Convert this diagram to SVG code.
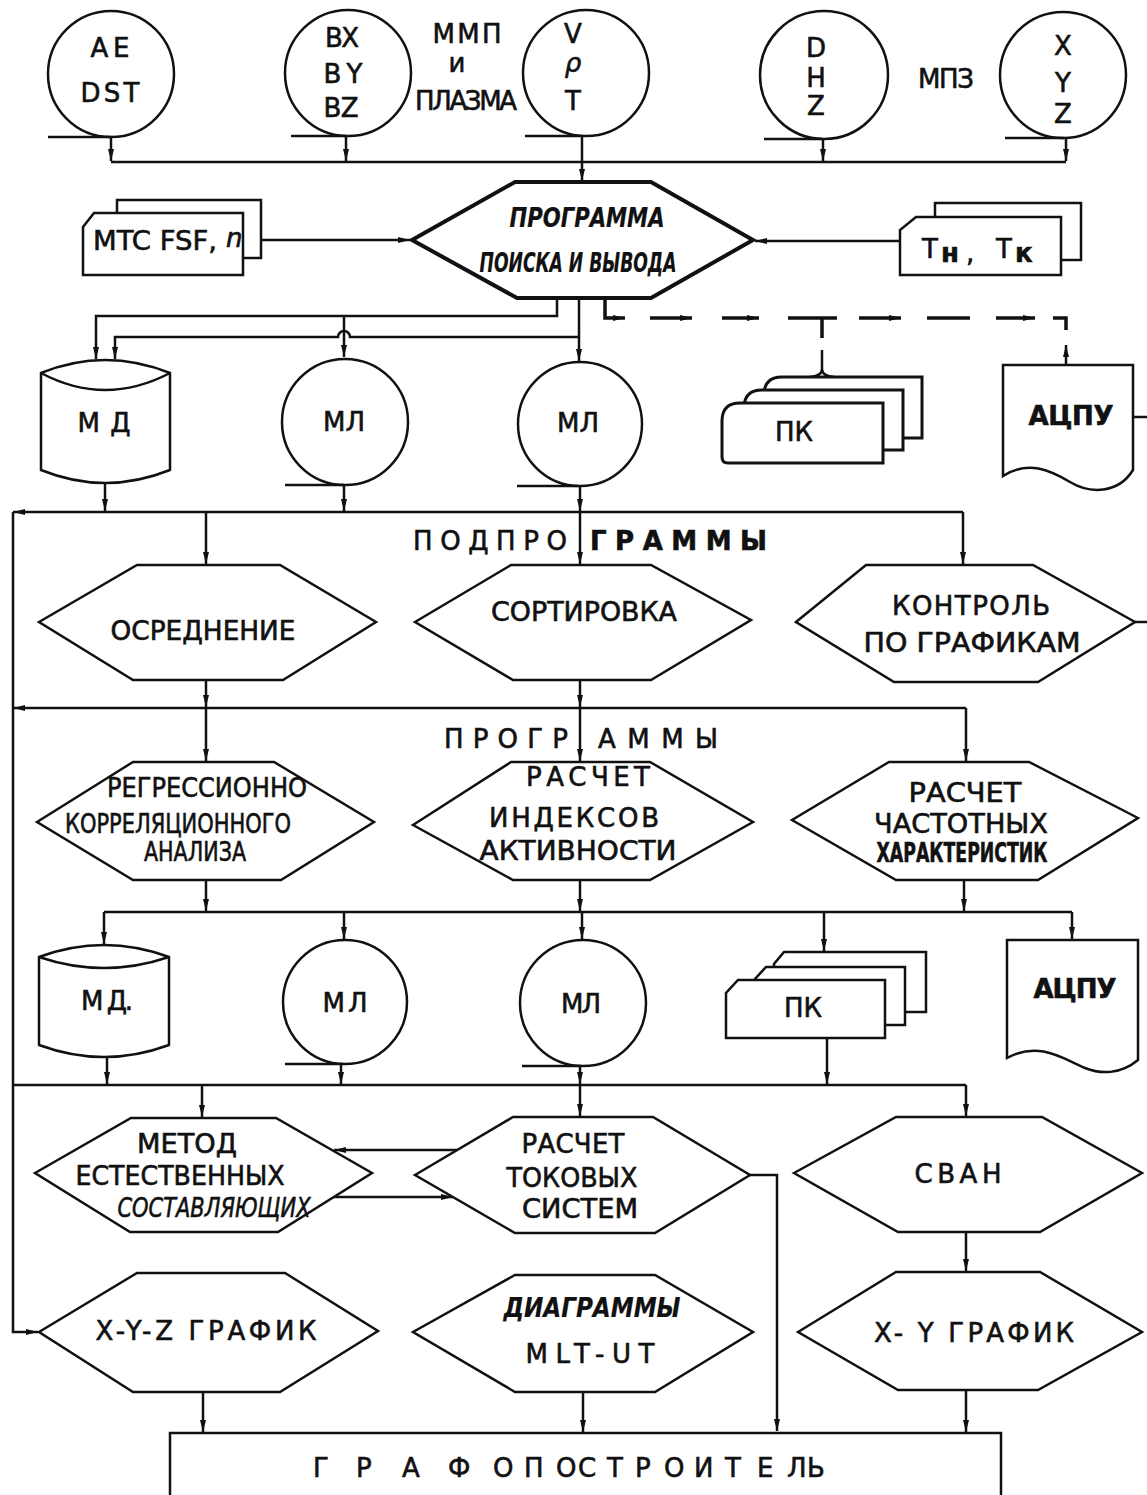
<svg xmlns="http://www.w3.org/2000/svg" width="1147" height="1495" viewBox="0 0 1147 1495">
<style>
.ln{fill:none;stroke:#111;stroke-width:2.5}
.sh{fill:#fff;stroke:#111;stroke-width:2.5}
.thk{fill:#fff;stroke:#111;stroke-width:4}
.dash{fill:none;stroke:#111;stroke-width:3.5}
.t{font-family:"DejaVu Sans","Liberation Sans",sans-serif;fill:#111;stroke:#111;stroke-width:0.6;text-anchor:middle;font-size:26px}
.s{text-anchor:start}
.it{font-style:italic;font-weight:bold;stroke-width:0.2}
</style>
<defs>
<marker id="a" viewBox="0 0 12 8" refX="12" refY="4" markerWidth="12" markerHeight="8" markerUnits="userSpaceOnUse" orient="auto"><path d="M0,1 L12,4 L0,7 z" fill="#111"/></marker>
</defs>
<rect width="1147" height="1495" fill="#fff"/>

<g id="connectors">
<path class="ln" d="M111,162 H1066"/>
<path class="ln" d="M111,137 V161" marker-end="url(#a)"/>
<path class="ln" d="M346,137 V161" marker-end="url(#a)"/>
<path class="ln" d="M823,139 V161" marker-end="url(#a)"/>
<path class="ln" d="M1066,138 V161" marker-end="url(#a)"/>
<path class="ln" d="M582,136 V181" marker-end="url(#a)"/>
<path class="ln" d="M261,240 H410" marker-end="url(#a)"/>
<path class="ln" d="M900,241 H755" marker-end="url(#a)"/>
<path class="ln" d="M557,298 V316 H96 V359" marker-end="url(#a)"/>
<path class="ln" d="M344,316 V357" marker-end="url(#a)"/>
<path class="ln" d="M579,298 V361" marker-end="url(#a)"/>
<path class="ln" d="M579,337 H350 a6,6 0 0 0 -12,0 H115 V359" marker-end="url(#a)"/>
<path class="dash" d="M605,298 V318 H625" marker-end="url(#a)"/>
<path class="dash" d="M650,318 H692" marker-end="url(#a)"/>
<path class="dash" d="M722,318 H759" marker-end="url(#a)"/>
<path class="dash" d="M788,318 H837 M822,318 V338"/>
<path class="dash" d="M859,318 H901" marker-end="url(#a)"/>
<path class="dash" d="M927,318 H970"/>
<path class="dash" d="M996,318 H1035" marker-end="url(#a)"/>
<path class="dash" d="M1053,318 H1066 V330"/>
<path class="ln" d="M1066,365 V345" marker-end="url(#a)"/>
<path class="ln" d="M822,350 V369 Q822,376 810,377 M822,369 Q822,376 834,377"/>
<path class="ln" d="M1133,417 H1147"/>
<path class="ln" d="M963,512 H13" marker-end="url(#a)"/>
<path class="ln" d="M13,512 V1332 H38" marker-end="url(#a)"/>
<path class="ln" d="M105,483 V511" marker-end="url(#a)"/>
<path class="ln" d="M344,485 V511" marker-end="url(#a)"/>
<path class="ln" d="M580,486 V511" marker-end="url(#a)"/>
<path class="ln" d="M206,512 V564" marker-end="url(#a)"/>
<path class="ln" d="M580,512 V564" marker-end="url(#a)"/>
<path class="ln" d="M963,512 V564" marker-end="url(#a)"/>
<path class="ln" d="M1135,622 H1147"/>
<path class="ln" d="M966,708 H13" marker-end="url(#a)"/>
<path class="ln" d="M206,681 V707" marker-end="url(#a)"/>
<path class="ln" d="M580,681 V707" marker-end="url(#a)"/>
<path class="ln" d="M206,708 V761" marker-end="url(#a)"/>
<path class="ln" d="M580,708 V761" marker-end="url(#a)"/>
<path class="ln" d="M966,708 V761" marker-end="url(#a)"/>
<path class="ln" d="M104,912 H1072"/>
<path class="ln" d="M206,880 V911" marker-end="url(#a)"/>
<path class="ln" d="M580,880 V911" marker-end="url(#a)"/>
<path class="ln" d="M964,880 V911" marker-end="url(#a)"/>
<path class="ln" d="M104,912 V944" marker-end="url(#a)"/>
<path class="ln" d="M344,912 V939" marker-end="url(#a)"/>
<path class="ln" d="M582,912 V939" marker-end="url(#a)"/>
<path class="ln" d="M824,912 V951" marker-end="url(#a)"/>
<path class="ln" d="M1072,912 V939" marker-end="url(#a)"/>
<path class="ln" d="M966,1085 H13"/>
<path class="ln" d="M107,1057 V1084" marker-end="url(#a)"/>
<path class="ln" d="M341,1065 V1084" marker-end="url(#a)"/>
<path class="ln" d="M580,1066 V1084" marker-end="url(#a)"/>
<path class="ln" d="M827,1038 V1084" marker-end="url(#a)"/>
<path class="ln" d="M202,1085 V1117" marker-end="url(#a)"/>
<path class="ln" d="M580,1085 V1116" marker-end="url(#a)"/>
<path class="ln" d="M966,1085 V1116" marker-end="url(#a)"/>
<path class="ln" d="M457,1150 H334" marker-end="url(#a)"/>
<path class="ln" d="M334,1197 H453" marker-end="url(#a)"/>
<path class="ln" d="M750,1175 H777 V1431" marker-end="url(#a)"/>
<path class="ln" d="M966,1232 V1271" marker-end="url(#a)"/>
<path class="ln" d="M203,1392 V1432" marker-end="url(#a)"/>
<path class="ln" d="M583,1392 V1432" marker-end="url(#a)"/>
<path class="ln" d="M966,1390 V1432" marker-end="url(#a)"/>
</g>

<g id="tape-ae">
<circle class="sh" cx="111" cy="74" r="63"/>
<path class="ln" d="M48,137 H111"/>
<text class="t" x="110" y="57" textLength="39">A E</text>
<text class="t" x="110" y="102" textLength="59">DST</text>
</g>
<g id="tape-b">
<circle class="sh" cx="348" cy="73" r="63"/>
<path class="ln" d="M291,136 H346"/>
<text class="t" x="342" y="47" textLength="34">B X</text>
<text class="t" x="343" y="83" textLength="39">B Y</text>
<text class="t" x="341" y="117" textLength="35">B Z</text>
</g>
<g id="label-mmp">
<text class="t" x="467" y="43" font-size="24" textLength="69">ММП</text>
<text class="t" x="457" y="72" font-size="18">и</text>
<text class="t" x="466" y="110" font-size="22" textLength="102">ПЛАЗМА</text>
</g>
<g id="tape-v">
<circle class="sh" cx="586" cy="73" r="63"/>
<path class="ln" d="M525,136 H582"/>
<text class="t" x="573" y="43">V</text>
<text class="t" x="573" y="72" font-style="italic">ρ</text>
<text class="t" x="573" y="110">T</text>
</g>
<g id="tape-dhz">
<circle class="sh" cx="824" cy="75" r="64"/>
<path class="ln" d="M764,139 H822"/>
<text class="t" x="816" y="57" font-size="22">D</text>
<text class="t" x="816" y="87" font-size="22">H</text>
<text class="t" x="816" y="115" font-size="22">Z</text>
</g>
<text class="t" x="946" y="88" font-size="24" textLength="56">МПЗ</text>
<g id="tape-xyz">
<circle class="sh" cx="1063" cy="75" r="63"/>
<path class="ln" d="M1005,138 H1064"/>
<text class="t" x="1063" y="55" font-size="22">X</text>
<text class="t" x="1063" y="92" font-size="22">Y</text>
<text class="t" x="1063" y="123" font-size="22">Z</text>
</g>

<g id="cards-mtc">
<rect class="sh" x="117" y="200" width="144" height="58"/>
<path class="sh" d="M94,213 H243 V275 H83 V227 Z"/>
<text class="t s" x="93" y="250" font-size="24" textLength="124" lengthAdjust="spacingAndGlyphs">MTC FSF,</text>
<text class="t s" x="226" y="247" font-size="16" font-style="italic">n</text>
</g>
<g id="cards-t">
<rect class="sh" x="935" y="203" width="146" height="57"/>
<path class="sh" d="M916,217 H1061 V275 H900 V230 Z"/>
<text class="t s" x="922" y="258">T</text>
<text class="t s" x="941" y="262" font-size="13" font-weight="bold">н</text>
<text class="t s" x="966" y="262" font-size="22">,</text>
<text class="t s" x="996" y="258">T</text>
<text class="t s" x="1015" y="262" font-size="13" font-weight="bold">к</text>
</g>

<g id="main-program">
<polygon class="thk" points="412,240 515,182 651,182 753,240 651,298 517,298"/>
<text class="t it" x="587" y="227" font-size="20" textLength="155" lengthAdjust="spacingAndGlyphs">ПРОГРАММА</text>
<text class="t it" x="578" y="272" font-size="20" textLength="197" lengthAdjust="spacingAndGlyphs">ПОИСКА И ВЫВОДА</text>
</g>

<g id="disk-1">
<path class="sh" d="M41,373 Q105,347 170,373 V470 Q105,496 41,470 Z"/>
<path class="ln" d="M41,373 Q105,407 170,373"/>
<text class="t" x="104" y="432" textLength="53">М Д</text>
</g>
<g id="tape-1">
<circle class="sh" cx="345" cy="422" r="63"/>
<path class="ln" d="M285,485 H344"/>
<text class="t" x="344" y="431" font-size="24">МЛ</text>
</g>
<g id="tape-2">
<circle class="sh" cx="580" cy="424" r="62"/>
<path class="ln" d="M517,486 H578"/>
<text class="t" x="578" y="432" font-size="24">МЛ</text>
</g>
<g id="cards-pk-1">
<path d="M764,395 Q764,377 782,377 H922 V438 H764 Z" fill="#fff" stroke="#111" stroke-width="3"/>
<path d="M744,408 Q744,390 762,390 H903 V450 H744 Z" fill="#fff" stroke="#111" stroke-width="3"/>
<path d="M722,421 Q722,403 740,403 H883 V463 H728 Q722,463 722,457 Z" fill="#fff" stroke="#111" stroke-width="3"/>
<text class="t" x="794" y="441" font-size="24">ПК</text>
</g>
<g id="printer-1">
<path class="sh" d="M1003,365 H1133 V470 C1118,494 1090,494 1070,482 C1050,470 1028,460 1003,476 Z"/>
<text class="t" x="1071" y="425" font-size="24" font-weight="bold" textLength="85">АЦПУ</text>
</g>

<g id="lbl-subprograms">
<text class="t s" x="413" y="550" textLength="154">ПОДПРО</text>
<text class="t s" x="590" y="550" font-weight="bold" textLength="177">ГРАММЫ</text>
</g>

<g id="averaging">
<polygon class="sh" points="39,622 137,565 280,565 376,622 283,680 133,680"/>
<text class="t" x="203" y="640" textLength="185" lengthAdjust="spacingAndGlyphs">ОСРЕДНЕНИЕ</text>
</g>
<g id="sorting">
<polygon class="sh" points="415,622 511,565 651,565 751,620 651,680 513,680"/>
<text class="t" x="584" y="621" textLength="186" lengthAdjust="spacingAndGlyphs">СОРТИРОВКА</text>
</g>
<g id="control">
<polygon class="sh" points="796,622 866,565 1033,565 1135,622 1038,682 894,682"/>
<text class="t" x="971" y="615" font-size="28" textLength="158">КОНТРОЛЬ</text>
<text class="t" x="972" y="652" textLength="217" lengthAdjust="spacingAndGlyphs">ПО ГРАФИКАМ</text>
</g>

<g id="lbl-programs">
<text class="t s" x="444" y="748" textLength="124">ПРОГР</text>
<text class="t s" x="598" y="748" textLength="120">АММЫ</text>
</g>

<g id="regression">
<polygon class="sh" points="37,822 133,762 274,762 374,822 281,880 133,880"/>
<text class="t" x="207" y="797" font-size="23" textLength="200" lengthAdjust="spacingAndGlyphs">РЕГРЕССИОННО</text>
<text class="t" x="178" y="833" font-size="23" textLength="226" lengthAdjust="spacingAndGlyphs">КОРРЕЛЯЦИОННОГО</text>
<text class="t" x="195" y="861" font-size="23" textLength="102" lengthAdjust="spacingAndGlyphs">АНАЛИЗА</text>
</g>
<g id="indices">
<polygon class="sh" points="413,825 511,762 650,762 753,822 650,880 513,880"/>
<text class="t" x="588" y="786" font-size="27" textLength="124">РАСЧЕТ</text>
<text class="t" x="574" y="827" font-size="28" textLength="170">ИНДЕКСОВ</text>
<text class="t" x="578" y="860" font-size="28" textLength="197" lengthAdjust="spacingAndGlyphs">АКТИВНОСТИ</text>
</g>
<g id="frequency">
<polygon class="sh" points="792,820 889,762 1029,762 1138,818 1038,880 896,880"/>
<text class="t" x="965" y="802" font-size="29" textLength="113" lengthAdjust="spacingAndGlyphs">РАСЧЕТ</text>
<text class="t" x="961" y="833" font-size="28" textLength="174" lengthAdjust="spacingAndGlyphs">ЧАСТОТНЫХ</text>
<text class="t" x="962" y="862" font-size="19" font-weight="bold" textLength="171" lengthAdjust="spacingAndGlyphs">ХАРАКТЕРИСТИК</text>
</g>

<g id="disk-2">
<path class="sh" d="M39,957 Q104,933 169,957 V1045 Q104,1069 39,1045 Z"/>
<path class="ln" d="M39,957 Q104,979 169,957"/>
<text class="t" x="107" y="1010" textLength="52">М Д.</text>
</g>
<g id="tape-3">
<circle class="sh" cx="345" cy="1002" r="62"/>
<path class="ln" d="M285,1064 H343"/>
<text class="t" x="345" y="1012" textLength="45">М Л</text>
</g>
<g id="tape-4">
<circle class="sh" cx="583" cy="1003" r="63"/>
<path class="ln" d="M522,1066 H581"/>
<text class="t" x="581" y="1013" textLength="40">МЛ</text>
</g>
<g id="cards-pk-2">
<path class="sh" d="M784,952 H926 V1012 H774 V964 Z"/>
<path class="sh" d="M766,967 H905 V1025 H755 V979 Z"/>
<path class="sh" d="M738,980 H885 V1038 H726 V993 Z"/>
<text class="t" x="803" y="1017" font-size="24">ПК</text>
</g>
<g id="printer-2">
<path class="sh" d="M1007,940 H1138 V1060 C1120,1075 1100,1074 1085,1068 C1065,1060 1040,1040 1007,1058 Z"/>
<text class="t" x="1075" y="998" font-size="24" font-weight="bold" textLength="83">АЦПУ</text>
</g>

<g id="natural-components">
<polygon class="sh" points="35,1173 131,1118 276,1118 372,1173 278,1232 130,1232"/>
<text class="t" x="187" y="1153" font-size="28" textLength="100" lengthAdjust="spacingAndGlyphs">МЕТОД</text>
<text class="t" x="180" y="1185" font-size="27" textLength="209" lengthAdjust="spacingAndGlyphs">ЕСТЕСТВЕННЫХ</text>
<text class="t" x="214" y="1217" font-size="22" font-style="italic" textLength="193" lengthAdjust="spacingAndGlyphs">СОСТАВЛЯЮЩИХ</text>
</g>
<g id="current-systems">
<polygon class="sh" points="415,1175 513,1117 653,1117 750,1175 655,1233 515,1233"/>
<text class="t" x="573" y="1153" textLength="103">РАСЧЕТ</text>
<text class="t" x="572" y="1187" font-size="27" textLength="131" lengthAdjust="spacingAndGlyphs">ТОКОВЫХ</text>
<text class="t" x="580" y="1218" textLength="116" lengthAdjust="spacingAndGlyphs">СИСТЕМ</text>
</g>
<g id="svan">
<polygon class="sh" points="794,1173 896,1117 1042,1117 1142,1173 1040,1232 898,1232"/>
<text class="t" x="958" y="1183" font-size="28" textLength="87">СВАН</text>
</g>

<g id="xyz-plot">
<polygon class="sh" points="39,1332 137,1273 285,1273 378,1331 280,1392 133,1392"/>
<text class="t" x="206" y="1340" font-size="24" textLength="221">X-Y-Z ГРАФИК</text>
</g>
<g id="mlt-ut">
<polygon class="sh" points="413,1332 515,1275 655,1275 753,1332 655,1392 515,1392"/>
<text class="t it" x="592" y="1317" font-size="21" textLength="177" lengthAdjust="spacingAndGlyphs">ДИАГРАММЫ</text>
<text class="t" x="590" y="1363" font-size="28" textLength="129">MLT-UT</text>
</g>
<g id="xy-plot">
<polygon class="sh" points="798,1332 896,1272 1040,1272 1142,1332 1038,1390 898,1390"/>
<text class="t" x="974" y="1342" font-size="24" textLength="200">X- Y ГРАФИК</text>
</g>

<g id="plotter">
<path class="sh" d="M170,1500 V1433 H1001 V1500"/>
<text class="t s" x="313 356 402 448 493 524 556 578 607 635 664 694 725 757 787 807" y="1477">ГРАФОПОСТРОИТЕЛЬ</text>
</g>
</svg>
